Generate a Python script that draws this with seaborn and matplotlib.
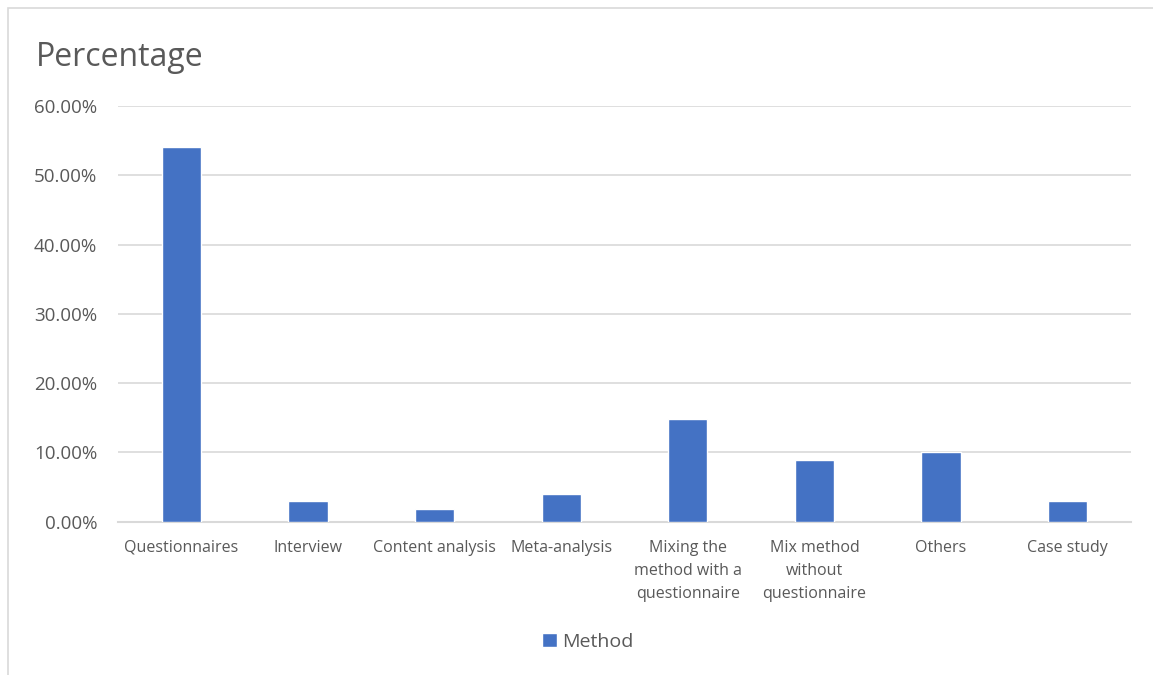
import matplotlib
matplotlib.use("Agg")
import matplotlib.pyplot as plt
from matplotlib.ticker import PercentFormatter
from matplotlib.patches import Rectangle
import seaborn as sns
import pandas as pd

# Share of studies by research method (percent)
methods = [
    "Questionnaires",
    "Interview",
    "Content analysis",
    "Meta-analysis",
    "Mixing the\nmethod with a\nquestionnaire",
    "Mix method\nwithout\nquestionnaire",
    "Others",
    "Case study",
]
percentages = [54.1, 3.0, 1.8, 4.0, 14.8, 8.9, 10.1, 3.0]
series_name = "Method"
y_ticks = [0, 10, 20, 30, 40, 50, 60]

df = pd.DataFrame({"method": methods, "pct": percentages})

sns.set_theme(style="white")
plt.rcParams["font.family"] = ["Open Sans", "DejaVu Sans"]

TEXT = "#595959"
GRID = "#d9d9d9"
BAR = "#4472C4"

fig = plt.figure(figsize=(11.53, 6.75), dpi=100)
ax = fig.add_axes([118 / 1153, 1 - 521.7 / 675, (1131 - 118) / 1153, (521.7 - 106) / 675])

sns.barplot(data=df, x="method", y="pct", color=BAR, width=0.31,
            saturation=1, label=series_name, ax=ax, zorder=3)

ax.set_ylim(0, 60)
ax.set_yticks(y_ticks)
ax.yaxis.set_major_formatter(PercentFormatter(decimals=2))
ax.set_xlim(-0.5, len(methods) - 0.5)
ax.set_xlabel("")
ax.set_ylabel("")
ax.grid(axis="y", color=GRID, linewidth=1.2, zorder=0)
ax.grid(axis="x", visible=False)
for side in ["left", "right", "top"]:
    ax.spines[side].set_visible(False)
ax.spines["bottom"].set_color(GRID)
ax.spines["bottom"].set_linewidth(1.5)
ax.tick_params(axis="y", length=0, pad=15, labelsize=13.5, labelcolor=TEXT)
ax.tick_params(axis="x", length=0, pad=13, labelsize=11.5, labelcolor=TEXT)
for lbl in ax.get_xticklabels():
    lbl.set_linespacing(1.6)
    lbl.set_verticalalignment("top")

fig.text(36 / 1153, 1 - 58 / 675, "Percentage", fontsize=23, color=TEXT,
         ha="left", va="center")

leg = ax.legend(loc="center", bbox_to_anchor=(588 / 1153, 1 - 642 / 675),
                bbox_transform=fig.transFigure, frameon=False, fontsize=14,
                handlelength=0.75, handleheight=0.75, handletextpad=0.3)
for t in leg.get_texts():
    t.set_color(TEXT)

# Chart area border
fig.patches.append(Rectangle((8 / 1153, -0.1), 1.2, 1 - 8 / 675 + 0.1,
                             transform=fig.transFigure, fill=False,
                             edgecolor=GRID, linewidth=1.2))

fig.savefig("out.png", dpi=100, facecolor="white")
